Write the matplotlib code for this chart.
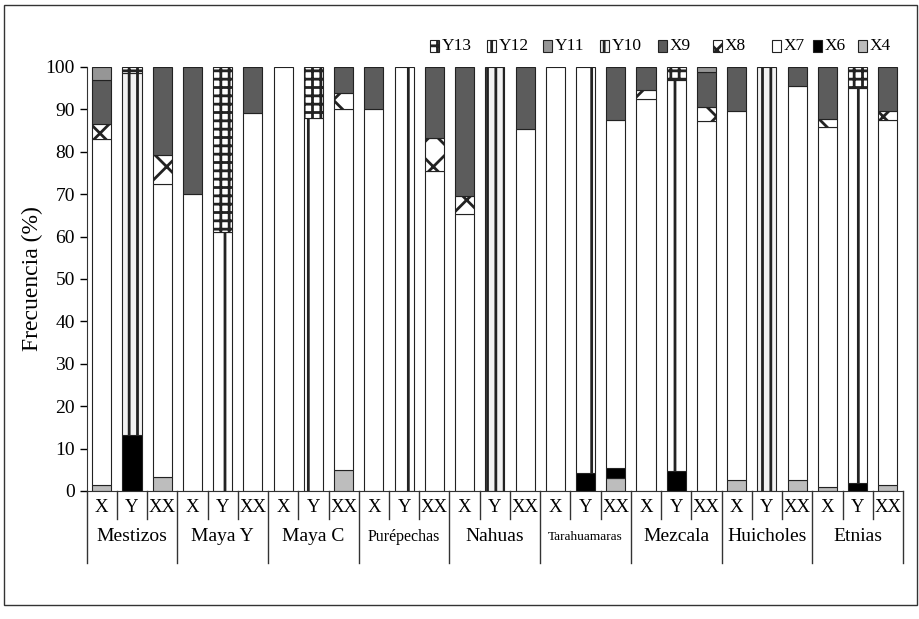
import matplotlib
matplotlib.use('Agg')
import matplotlib.pyplot as plt
from matplotlib.patches import Rectangle
from matplotlib.transforms import blended_transform_factory
import numpy as np

plt.rcParams['font.family'] = 'Liberation Serif'
plt.rcParams['hatch.linewidth'] = 2.0

# categories
groups = ['Mestizos', 'Maya Y', 'Maya C', 'Purépechas', 'Nahuas',
          'Tarahuamaras', 'Mezcala', 'Huicholes', 'Etnias']
subs = ['X', 'Y', 'XX']

# segment heights (%) per bar, stacked from bottom: X4, X6, X7, X8, X9, Y10, Y11, Y12, Y13
x4 = [1.3, 0, 3.2, 0, 0, 0, 0, 0, 5, 0, 0, 0, 0, 0, 0, 0, 0, 3.1, 0, 0, 0, 2.6, 0, 2.6, 1, 0, 1.3]
x6 = [0, 13.2, 0, 0, 0, 0, 0, 0, 0, 0, 0, 0, 0, 0, 0, 0, 4.2, 2.3, 0, 4.8, 0, 0, 0, 0, 0, 2, 0]
x7 = [81.7, 0, 69.3, 70, 0, 89.2, 100, 0, 85, 90, 0, 75.5, 65.4, 0, 85.3,
      100, 0, 82.1, 92.4, 0, 87.3, 87, 0, 92.8, 84.8, 0, 86.2]
x8 = [3.5, 0, 6.7, 0, 0, 0, 0, 0, 3.8, 0, 0, 7.7, 4.2, 0, 0,
      0, 0, 0, 2.2, 0, 3.2, 0, 0, 0, 1.9, 0, 2.2]
x9 = [10.5, 0, 20.8, 30, 0, 10.8, 0, 0, 6.2, 10, 0, 16.8, 30.4, 0, 14.7,
      0, 0, 12.5, 5.4, 0, 8.2, 10.4, 0, 4.6, 12.3, 0, 10.3]
y10 = [0, 85.3, 0, 0, 0, 0, 0, 0, 0, 0, 0, 0, 0, 100, 0,
       0, 0, 0, 0, 0, 0, 0, 100, 0, 0, 0, 0]
y11 = [3, 0, 0, 0, 0, 0, 0, 0, 0, 0, 0, 0, 0, 0, 0,
       0, 0, 0, 0, 0, 1.3, 0, 0, 0, 0, 0, 0]
y12 = [0, 0, 0, 0, 61, 0, 0, 88, 0, 0, 100, 0, 0, 0, 0,
       0, 95.8, 0, 0, 92.2, 0, 0, 0, 0, 0, 93, 0]
y13 = [0, 1.5, 0, 0, 39, 0, 0, 12, 0, 0, 0, 0, 0, 0, 0,
       0, 0, 0, 0, 3, 0, 0, 0, 0, 0, 5, 0]

series = [('X4', x4), ('X6', x6), ('X7', x7), ('X8', x8), ('X9', x9),
          ('Y10', y10), ('Y11', y11), ('Y12', y12), ('Y13', y13)]

styles = {
    'X4': dict(fc='#bdbdbd', hatch=None),
    'X6': dict(fc='#000000', hatch=None),
    'X7': dict(fc='#ffffff', hatch=None),
    'X8': dict(fc='#ffffff', hatch='x'),
    'X9': dict(fc='#5c5c5c', hatch=None),
    'Y10': dict(fc='#f2f2f2', hatch='||'),
    'Y11': dict(fc='#969696', hatch=None),
    'Y12': dict(fc='#ffffff', hatch='|'),
    'Y13': dict(fc='#ffffff', hatch='++'),
}

fig = plt.figure(figsize=(9.2, 6.19), dpi=100)
ax = fig.add_axes([0.0942, 0.2068, 0.8873, 0.685])

x = np.arange(len(groups) * len(subs))
bottom = np.zeros(len(x))
for name, vals in series:
    vals = np.array(vals, dtype=float)
    m = vals > 0
    st = styles[name]
    ax.bar(x[m], vals[m], bottom=bottom[m], width=0.63, color=st['fc'],
           edgecolor='#222222', hatch=st['hatch'], linewidth=0.8)
    bottom += vals

ax.set_xlim(-0.5, len(x) - 0.5)
ax.set_ylim(0, 100)
ax.set_yticks(range(0, 101, 10))
ax.set_xticks([])
ax.tick_params(axis='y', direction='out', length=5, labelsize=14, width=1)
for s in ['top', 'right']:
    ax.spines[s].set_visible(False)
ax.spines['left'].set_color('#333333')
ax.spines['bottom'].set_color('#333333')
ax.set_ylabel('Frecuencia (%)', fontsize=17)
ax.yaxis.set_label_coords(-0.054, 0.5)

# category table under the axis
trans = blended_transform_factory(ax.transData, ax.transAxes)
for b in range(len(x) + 1):
    xb = b - 0.5
    y1 = -0.17 if b % 3 == 0 else -0.066
    ax.plot([xb, xb], [0, y1], transform=trans, color='#333333', lw=1, clip_on=False)
for i in x:
    ax.text(i, -0.038, subs[i % 3], transform=trans, ha='center', va='center', fontsize=13.5)
gsize = {'Purépechas': 11.5, 'Tarahuamaras': 9.5}
for g, name in enumerate(groups):
    ax.text(3 * g + 1, -0.108, name, transform=trans, ha='center', va='center',
            fontsize=gsize.get(name, 14))

# legend
leg_order = ['Y13', 'Y12', 'Y11', 'Y10', 'X9', 'X8', 'X7', 'X6', 'X4']
leg_px = [435, 492, 548, 605, 663, 718, 777, 818, 863]
W, H = 920.0, 619.0
for name, cx in zip(leg_order, leg_px):
    st = styles[name]
    fig.add_artist(Rectangle(((cx - 4.5) / W, 1 - 51.5 / H), 9 / W, 12 / H,
                             transform=fig.transFigure, facecolor=st['fc'],
                             edgecolor='#222222', hatch=st['hatch'], lw=0.8))
    fig.text((cx + 7) / W, 1 - 45.5 / H, name, ha='left', va='center', fontsize=12.5)

# outer frame
fig.add_artist(Rectangle((4 / W, 1 - 605 / H), 913 / W, 600 / H, fill=False,
                         transform=fig.transFigure, edgecolor='#333333', lw=1))

fig.savefig('out.png', dpi=100)
